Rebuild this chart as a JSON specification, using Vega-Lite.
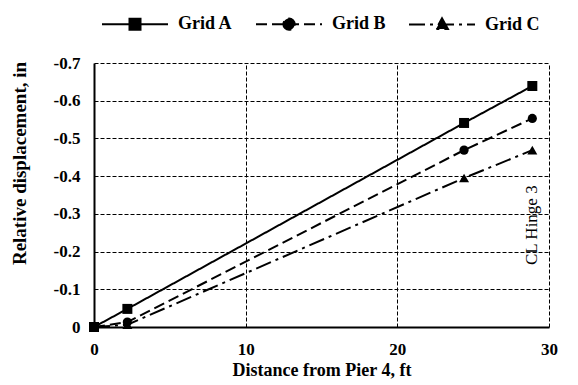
{
  "$schema": "https://vega.github.io/schema/vega-lite/v6.json",
  "width": 455,
  "height": 264,
  "autosize": "none",
  "padding": {"left": 94, "top": 63, "right": 29, "bottom": 58},
  "background": "white",
  "config": {"view": {"stroke": null}, "font": "Liberation Serif"},
  "data": {
    "values": [
      {"series": "Grid A", "x": 0, "y": 0},
      {"series": "Grid A", "x": 2.2, "y": -0.048},
      {"series": "Grid A", "x": 24.4, "y": -0.541},
      {"series": "Grid A", "x": 28.9, "y": -0.639},
      {"series": "Grid B", "x": 0, "y": 0},
      {"series": "Grid B", "x": 2.2, "y": -0.013},
      {"series": "Grid B", "x": 24.4, "y": -0.469},
      {"series": "Grid B", "x": 28.9, "y": -0.553},
      {"series": "Grid C", "x": 0, "y": 0},
      {"series": "Grid C", "x": 2.2, "y": -0.006},
      {"series": "Grid C", "x": 24.4, "y": -0.395},
      {"series": "Grid C", "x": 28.9, "y": -0.469}
    ]
  },
  "encoding": {
    "x": {
      "field": "x", "type": "quantitative",
      "scale": {"domain": [0, 30], "nice": false},
      "axis": {
        "title": "Distance from Pier 4, ft", "values": [0, 10, 20, 30], "labelFlush": false,
        "titleFont": "Liberation Serif", "titleFontSize": 18, "titleFontWeight": "bold", "titleColor": "black", "titlePadding": 4,
        "labelFont": "Liberation Serif", "labelFontSize": 17, "labelFontWeight": "bold", "labelColor": "black", "labelPadding": 14,
        "ticks": false, "domainColor": "black", "domainWidth": 2,
        "grid": true, "gridColor": "black", "gridDash": [4, 2], "gridWidth": 1, "gridOpacity": 1
      }
    },
    "y": {
      "field": "y", "type": "quantitative",
      "scale": {"domain": [-0.7, 0], "reverse": true, "nice": false},
      "axis": {
        "title": "Relative displacement, in", "values": [-0.7, -0.6, -0.5, -0.4, -0.3, -0.2, -0.1, 0],
        "labelExpr": "datum.value == 0 ? '0' : '-' + format(-datum.value, '.1f')",
        "titleFont": "Liberation Serif", "titleFontSize": 19, "titleFontWeight": "bold", "titleColor": "black", "titlePadding": 24, "titleY": 100,
        "labelFont": "Liberation Serif", "labelFontSize": 17, "labelFontWeight": "bold", "labelColor": "black", "labelPadding": 14,
        "ticks": false, "domainColor": "black", "domainWidth": 2,
        "grid": true, "gridColor": "black", "gridDash": [4, 2], "gridWidth": 1, "gridOpacity": 1
      }
    }
  },
  "layer": [
    {
      "mark": {"type": "line", "color": "black", "strokeWidth": 2},
      "encoding": {
        "strokeDash": {
          "field": "series", "type": "nominal",
          "scale": {"domain": ["Grid A", "Grid B", "Grid C"], "range": [[1, 0], [11, 5], [16, 5, 3, 5]]},
          "legend": {
            "title": null, "orient": "none", "direction": "horizontal", "legendX": 7, "legendY": -73,
            "symbolSize": 4356, "symbolStrokeWidth": 2, "symbolStrokeColor": "black",
            "labelFont": "Liberation Serif", "labelFontSize": 18, "labelFontWeight": "bold", "labelColor": "black",
            "labelOffset": 9, "columnPadding": 19,
            "encode": {
              "symbols": {
                "update": {
                  "shape": {"signal": "datum.value === 'Grid A' ? 'M-1,0H1M-0.167,-0.167H0.167V0.167H-0.167Z' : datum.value === 'Grid B' ? 'M-1,0H1M-0.17,0A0.17,0.17 0 1,0 0.17,0A0.17,0.17 0 1,0 -0.17,0Z' : 'M-1,0H1M0,-0.19L0.18,0.14H-0.18Z'"},
                  "fill": {"value": "black"},
                  "stroke": {"value": "black"},
                  "strokeWidth": {"value": 2}
                }
              }
            }
          }
        }
      }
    },
    {
      "transform": [{"filter": "datum.series === 'Grid A'"}],
      "mark": {"type": "point", "shape": "square", "filled": true, "color": "black", "opacity": 1, "size": 100}
    },
    {
      "transform": [{"filter": "datum.series === 'Grid B'"}],
      "mark": {"type": "point", "shape": "circle", "filled": true, "color": "black", "opacity": 1, "size": 85}
    },
    {
      "transform": [{"filter": "datum.series === 'Grid C'"}],
      "mark": {"type": "point", "shape": "triangle-up", "filled": true, "color": "black", "opacity": 1, "size": 100}
    },
    {
      "data": {"values": [{"x": 28.9, "y": -0.27, "label": "CL Hinge 3"}]},
      "mark": {"type": "text", "angle": 270, "font": "Liberation Serif", "fontSize": 17, "align": "center", "baseline": "middle", "color": "black"},
      "encoding": {"text": {"field": "label"}}
    }
  ]
}
